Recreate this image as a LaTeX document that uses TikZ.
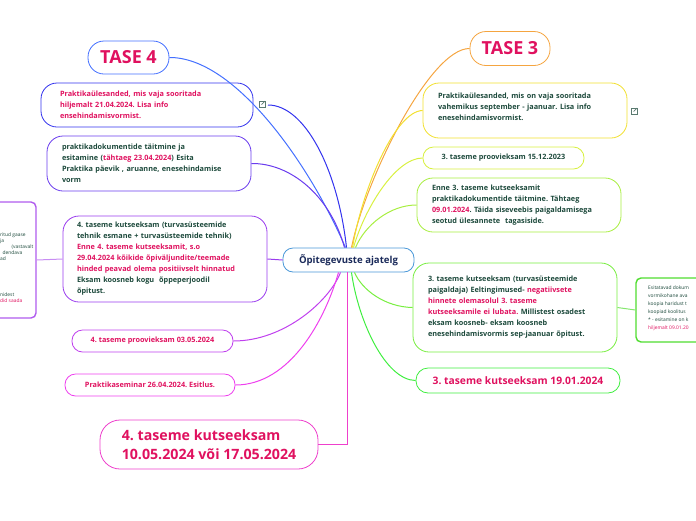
\documentclass[tikz,border=0pt]{standalone}
\usepackage{fontspec}
\setmainfont{Open Sans}
\definecolor{crim}{HTML}{E0115F}
\definecolor{dgreen}{HTML}{1D4A3C}
\definecolor{navy}{HTML}{1A2A5A}
\definecolor{cblue}{HTML}{4A98D8}
\definecolor{lblue}{HTML}{4470FF}
\definecolor{lblue2}{HTML}{3333EE}
\definecolor{lpurp1}{HTML}{6A3CEE}
\definecolor{lpurp2}{HTML}{9A3CEE}
\definecolor{lpurp3}{HTML}{B05CEE}
\definecolor{lmag1}{HTML}{C040EE}
\definecolor{lmag2}{HTML}{EE40EE}
\definecolor{lpink}{HTML}{EE40CC}
\definecolor{rorange}{HTML}{F5A540}
\definecolor{ryellow}{HTML}{F2E030}
\definecolor{rylgreen}{HTML}{D8F040}
\definecolor{rlgreen}{HTML}{A8EE40}
\definecolor{rgreen}{HTML}{78EE40}
\definecolor{rgreen2}{HTML}{50DD30}
\definecolor{rgreen3}{HTML}{40EE40}
\definecolor{icong}{HTML}{5A7A70}
\tikzset{
  box/.style={draw, fill=white, line width=0.8pt, inner sep=0pt, align=left, font=\bodyfont, text=dgreen},
  conn/.style={line width=1pt},
  linkicon/.pic={
    \draw[icong, line width=0.7pt] (1.5,-3) -- (-3,-3) -- (-3,3) -- (3,3) -- (3,-1.5);
    \draw[icong, line width=0.7pt] (-0.5,0.5) -- (3,-3);
    \draw[icong, line width=0.7pt] (0.5,-3) -- (3,-3) -- (3,-0.5);
  }
}
\newcommand{\bodyfont}{\bfseries\fontsize{7.3}{11}\selectfont}
\newcommand{\tinyfont}{\fontsize{4.9}{8.1}\selectfont}
\begin{document}
\frenchspacing
\begin{tikzpicture}[x=1pt,y=-1pt]
\useasboundingbox (0,0) rectangle (696,520);

% center
\node[box, draw=cblue, rounded corners=10pt, minimum width=131, minimum height=24, font=\bfseries\fontsize{9.6}{11}\selectfont, text=navy, align=center] (c) at (348.5,260) {Õpitegevuste ajatelg};

% left side nodes
\node[box, draw=lblue, rounded corners=16pt, minimum width=81, minimum height=33, font=\bfseries\fontsize{18}{20}\selectfont, text=crim, align=center] (t4) at (128.5,57.5) {TASE 4};

\node[box, draw=lblue2, rounded corners=16pt, minimum width=212, minimum height=44, text width=174, text=crim] (b2) at (147,105) {Praktikaülesanded, mis vaja sooritada\\hiljemalt 21.04.2024. Lisa info\\ensehindamisvormist.};

\node[box, draw=lpurp1, rounded corners=16pt, minimum width=204, minimum height=55, text width=174] (b3) at (149,163.5) {praktikadokumentide täitmine ja\\esitamine (\textcolor{crim}{tähtaeg 23.04.2024}) Esita\\Praktika päevik , aruanne, enesehindamise\\vorm};

\node[box, draw=lpurp2, rounded corners=16pt, minimum width=204, minimum height=86, text width=176] (b4) at (165,259) {4. taseme kutseeksam (turvasüsteemide\\tehnik esmane + turvasüsteemide tehnik)\\\textcolor{crim}{Enne 4. taseme kutseeksamit, s.o}\\\textcolor{crim}{29.04.2024 kõikide õpiväljundite/teemade}\\\textcolor{crim}{hinded peavad olema positiivselt hinnatud}\\Eksam koosneb kogu\ \ õppeperjoodil\\õpitust.};

% left partial box
\node[draw=lpurp3, line width=1.4pt, rounded corners=5pt, fill=white, inner sep=0pt, minimum width=80, minimum height=116] (lp) at (-4,260) {};
\begin{scope}[font=\tinyfont, text=dgreen, anchor=base west, inner sep=0pt]
\node (lt1) at (0,236) {ritud gaase};
\node (lt2) at (0,242) {ja};
\node (lt3) at (11.5,248) {(vastavalt};
\node (lt4) at (2.5,254.5) {dendava};
\node (lt5) at (0,260.5) {ad};
\node (lt6) at (0,296) {nidest};
\node[text=crim] (lt7) at (0,302.5) {did saada};
\end{scope}

\node[box, draw=lmag1, rounded corners=10.5pt, minimum width=161, minimum height=22, text=crim, align=center] (b6) at (152.5,341) {4. taseme proovieksam 03.05.2024};

\node[box, draw=lmag2, rounded corners=10.5pt, minimum width=170, minimum height=22, text=crim, align=center] (b7) at (150,385) {Praktikaseminar 26.04.2024. Esitlus.};

\node[box, draw=lpink, rounded corners=20pt, minimum width=218, minimum height=49, text=crim, font=\bfseries\fontsize{14.2}{19}\selectfont] (b8) at (209,444.5) {4. taseme kutseeksam\\10.05.2024 või 17.05.2024};

% right side nodes
\node[box, draw=rorange, rounded corners=16pt, minimum width=80, minimum height=34, font=\bfseries\fontsize{18}{20}\selectfont, text=crim, align=center] (t3) at (510,48.5) {TASE 3};

\node[box, draw=ryellow, rounded corners=16pt, minimum width=204, minimum height=55, text width=174] (b10) at (525,110.5) {Praktikaülesanded, mis on vaja sooritada\\vahemikus september - jaanuar. Lisa info\\enesehindamisvormist.\\[-3pt]\mbox{}};

\node[box, draw=rylgreen, rounded corners=10.5pt, minimum width=161, minimum height=22, align=center] (b11) at (503.5,158) {3. taseme proovieksam 15.12.2023};

\node[box, draw=rlgreen, rounded corners=16pt, minimum width=204, minimum height=54, text width=174] (b12) at (519,205) {Enne 3. taseme kutseeksamit\\praktikadokumentide täitmine. Tähtaeg\\\textcolor{crim}{09.01.2024}. Täida siseveebis paigaldamisega\\seotud ülesannete\ \ tagasiside.};

\node[box, draw=rgreen, rounded corners=16pt, minimum width=204, minimum height=89, text width=174] (b13) at (515,307.5) {3. taseme kutseeksam (turvasüsteemide\\paigaldaja) Eeltingimused- \textcolor{crim}{negatiivsete}\\\textcolor{crim}{hinnete olemasolul 3. taseme}\\\textcolor{crim}{kutseeksamile ei lubata.} Millistest osadest\\eksam koosneb- eksam koosneb\\enesehindamisvormis sep-jaanuar õpitust.};

% right partial box
\node[draw=rgreen2, line width=1.4pt, rounded corners=5pt, fill=white, inner sep=0pt, minimum width=100, minimum height=64] (rp) at (686,310) {};
\begin{scope}[font=\tinyfont, text=dgreen, anchor=base west, inner sep=0pt]
\node (rt1) at (648,289) {Esitatavad dokum};
\node (rt2) at (648,297) {vormikohane ava};
\node (rt3) at (648,305) {koopia haridust t};
\node (rt4) at (648,313) {koopiad koolitus};
\node (rt5) at (648,321.5) {* - esitamine on k};
\node[text=crim] (rt6) at (648,329.5) {hiljemalt 09.01.20};
\end{scope}

\node[box, draw=rgreen3, rounded corners=12pt, minimum width=204, minimum height=25, text=crim, font=\bfseries\fontsize{10.3}{11}\selectfont, align=center] (b15) at (518,380.5) {3. taseme kutseeksam 19.01.2024};

% link icons
\pic at (262,104) {linkicon};
\pic at (634,111) {linkicon};
\coordinate (ic2) at (268,105);

% connectors
\begin{scope}[conn]
\draw[lblue] (t4.east) .. controls (235,57) and (310,165) .. ([xshift=-3]c.north);
\draw[lblue2] (ic2) .. controls (305,105) and (338,170) .. ([xshift=-2]c.north);
\draw[lpurp1] (b3.east) .. controls (290,163) and (330,195) .. ([xshift=-4]c.north);
\draw[lpurp2] (b4.east) -- (c.west);
\draw[lpurp3!70!white] (b4.west) -- (lp.east);
\draw[lmag1] (b6.east) .. controls (285,341) and (330,300) .. ([xshift=-8]c.south);
\draw[lmag2] (b7.east) .. controls (290,385) and (325,320) .. ([xshift=-10]c.south);
\draw[lpink] (b8.east) -| ([xshift=-1.5]c.south);
\draw[rorange] (t3.west) .. controls (430,48) and (365,180) .. ([xshift=3]c.north);
\draw[ryellow] (b10.west) .. controls (395,111) and (362,190) .. ([xshift=4]c.north);
\draw[rylgreen] (b11.west) .. controls (395,158) and (364,210) .. ([xshift=5]c.north);
\draw[rlgreen] (b12.west) .. controls (390,205) and (365,225) .. ([xshift=7]c.north);
\draw[rgreen] (b13.west) .. controls (385,307) and (362,290) .. ([xshift=6]c.south);
\draw[rgreen2!70!white] (b13.east) -- (rp.west);
\draw[rgreen3] (b15.west) .. controls (385,380) and (358,320) .. ([xshift=3]c.south);
\end{scope}
\end{tikzpicture}
\end{document}
